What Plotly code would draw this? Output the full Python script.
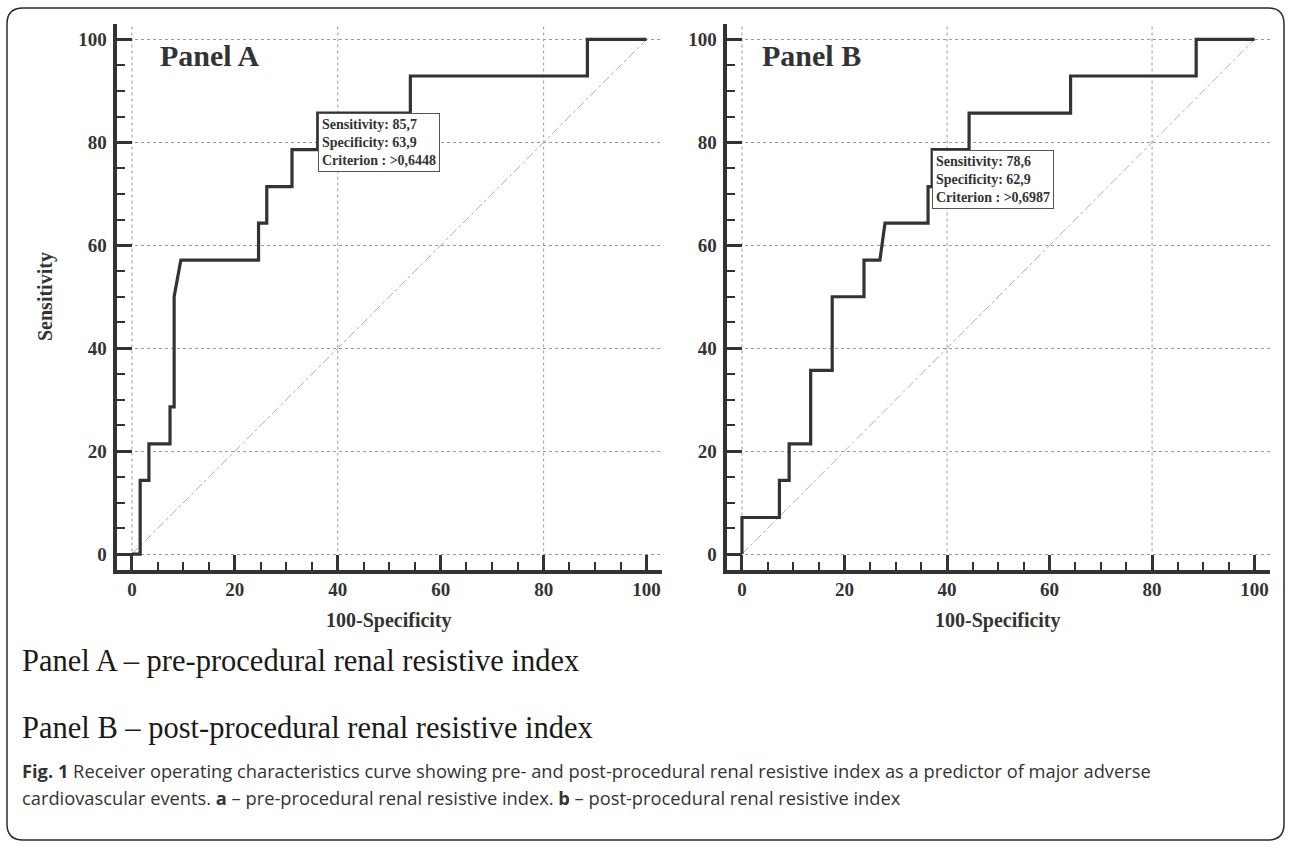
import plotly.graph_objects as go

W, H = 1292, 848

# ---------------- data ----------------
roc_a_x = [0, 1.6, 1.6, 3.3, 3.3, 7.4, 7.4, 8.2, 8.2, 9.5, 24.6, 24.6, 26.2, 26.2,
           31.1, 31.1, 36.1, 36.1, 54.1, 54.1, 88.5, 88.5, 100]
roc_a_y = [0, 0, 14.3, 14.3, 21.4, 21.4, 28.6, 28.6, 50.0, 57.1, 57.1, 64.3, 64.3, 71.4,
           71.4, 78.6, 78.6, 85.7, 85.7, 92.9, 92.9, 100, 100]

roc_b_x = [0, 0, 7.3, 7.3, 9.2, 9.2, 13.4, 13.4, 17.6, 17.6, 23.8, 23.8, 26.9, 27.9,
           36.3, 36.3, 37.1, 37.1, 44.3, 44.3, 64.1, 64.1, 88.6, 88.6, 100]
roc_b_y = [0, 7.1, 7.1, 14.3, 14.3, 21.4, 21.4, 35.7, 35.7, 50.0, 50.0, 57.1, 57.1, 64.3,
           64.3, 71.4, 71.4, 78.6, 78.6, 85.7, 85.7, 92.9, 92.9, 100, 100]

diag = [0, 100]

crit_a = {"sens": "85,7", "spec": "63,9", "crit": ">0,6448", "x": 36.1, "y": 85.7}
crit_b = {"sens": "78,6", "spec": "62,9", "crit": ">0,6987", "x": 37.1, "y": 78.6}

panel_titles = ["Panel A", "Panel B"]
vgrid = [0, 40, 80]
caption_lines = ["Panel A \u2013 pre-procedural renal resistive index",
                 "Panel B \u2013 post-procedural renal resistive index"]
fig_caption_1 = ("<b>Fig. 1</b> Receiver operating characteristics curve showing pre- and "
                 "post-procedural renal resistive index as a predictor of major adverse")
fig_caption_2 = ("cardiovascular events. <b>a</b> \u2013 pre-procedural renal resistive index. "
                 "<b>b</b> \u2013 post-procedural renal resistive index")

# ---------------- helpers ----------------
def px(x):
    return x / W

def py(y):
    return 1 - y / H

SERIF = "Liberation Serif, Times New Roman, serif"
DARK = "#333333"

dom_y = [py(569.5), py(24)]
dom_xa = [px(116.5), px(662)]
dom_xb = [px(726.6), px(1270)]

fig = go.Figure()

def add_panel(xs, ys, xa, ya):
    fig.add_trace(go.Scatter(x=diag, y=diag, mode="lines", xaxis=xa, yaxis=ya,
                             line=dict(color="#b0b0b0", width=1, dash="dashdot"),
                             hoverinfo="skip", showlegend=False))
    fig.add_trace(go.Scatter(x=xs, y=ys, mode="lines", xaxis=xa, yaxis=ya,
                             line=dict(color=DARK, width=3.2),
                             showlegend=False))

add_panel(roc_a_x, roc_a_y, "x", "y")
add_panel(roc_b_x, roc_b_y, "x2", "y2")

tickfont = dict(family=SERIF, size=19, color=DARK, weight="bold")

def xaxis_cfg(domain, anchor):
    return dict(domain=domain, anchor=anchor, range=[-3, 103], tick0=0, dtick=20,
                ticks="inside", ticklen=15, tickwidth=2.5, tickcolor=DARK,
                minor=dict(dtick=5, tick0=0, ticks="inside", ticklen=8, tickwidth=2,
                           tickcolor=DARK, showgrid=False),
                showline=True, linewidth=4, linecolor=DARK, showgrid=False,
                zeroline=False, tickfont=tickfont, ticklabelstandoff=0, fixedrange=True)

def yaxis_cfg(anchor):
    return dict(domain=dom_y, anchor=anchor, range=[-3, 103], tick0=0, dtick=20,
                ticks="inside", ticklen=15, tickwidth=2.5, tickcolor=DARK,
                minor=dict(dtick=5, tick0=0, ticks="inside", ticklen=8, tickwidth=2,
                           tickcolor=DARK, showgrid=False),
                showline=True, linewidth=4, linecolor=DARK,
                showgrid=True, gridcolor="#9a9a9a", gridwidth=1, griddash="dot",
                zeroline=False, tickfont=tickfont, ticklabelstandoff=2, fixedrange=True)

fig.update_layout(
    width=W, height=H, margin=dict(l=0, r=0, t=0, b=0),
    paper_bgcolor="white", plot_bgcolor="white", showlegend=False,
    xaxis=xaxis_cfg(dom_xa, "y"), yaxis=yaxis_cfg("x"),
    xaxis2=xaxis_cfg(dom_xb, "y2"), yaxis2=yaxis_cfg("x2"),
)

shapes = []
for xr, yr in (("x", "y domain"), ("x2", "y2 domain")):
    for gx in vgrid:
        shapes.append(dict(type="line", xref=xr, yref=yr, x0=gx, x1=gx, y0=0, y1=1,
                           line=dict(color="#9a9a9a", width=1, dash="dot"), layer="below"))

# rounded outer border
L, T, R, B, r = 7, 8, 1284, 840, 16
path = (f"M {px(L + r)} {py(T)} L {px(R - r)} {py(T)} Q {px(R)} {py(T)} {px(R)} {py(T + r)} "
        f"L {px(R)} {py(B - r)} Q {px(R)} {py(B)} {px(R - r)} {py(B)} "
        f"L {px(L + r)} {py(B)} Q {px(L)} {py(B)} {px(L)} {py(B - r)} "
        f"L {px(L)} {py(T + r)} Q {px(L)} {py(T)} {px(L + r)} {py(T)} Z")
shapes.append(dict(type="path", xref="paper", yref="paper", path=path,
                   line=dict(color="#2a2a2a", width=1.5)))
fig.update_layout(shapes=shapes)

ann = []
# panel titles
for title, xpix in zip(panel_titles, (158, 760)):
    ann.append(dict(text=title, xref="paper", yref="paper", x=px(xpix), y=py(55),
                    xanchor="left", yanchor="middle", showarrow=False,
                    font=dict(family=SERIF, size=30, color=DARK, weight="bold")))

# criterion boxes
for c, xr, yr in ((crit_a, "x", "y"), (crit_b, "x2", "y2")):
    crit = c["crit"].replace(">", "&gt;")
    txt = f"Sensitivity: {c['sens']}<br>Specificity: {c['spec']}<br>Criterion : {crit}"
    ann.append(dict(text=txt, xref=xr, yref=yr, x=c["x"], y=c["y"],
                    xanchor="left", yanchor="top", showarrow=False, align="left",
                    bgcolor="white", bordercolor="#555555", borderwidth=1, borderpad=3,
                    font=dict(family=SERIF, size=14, color=DARK, weight="bold")))

# axis titles
for xc in (389, 998):
    ann.append(dict(text="100-Specificity", xref="paper", yref="paper", x=px(xc), y=py(620),
                    xanchor="center", yanchor="middle", showarrow=False,
                    font=dict(family=SERIF, size=20, color=DARK, weight="bold")))
ann.append(dict(text="Sensitivity", xref="paper", yref="paper", x=px(45), y=py(297),
                xanchor="center", yanchor="middle", showarrow=False, textangle=-90,
                font=dict(family=SERIF, size=20, color=DARK, weight="bold")))

# caption lines
for line, ypix in zip(caption_lines, (661, 728)):
    ann.append(dict(text=line, xref="paper", yref="paper", x=px(20), y=py(ypix),
                    xanchor="left", yanchor="middle", showarrow=False,
                    font=dict(family=SERIF, size=30.5, color="#1a1a1a")))

CAPF = "Open Sans, sans-serif"
for line, ypix in zip((fig_caption_1, fig_caption_2), (770, 797)):
    ann.append(dict(text=line, xref="paper", yref="paper", x=px(20), y=py(ypix),
                    xanchor="left", yanchor="middle", showarrow=False,
                    font=dict(family=CAPF, size=18.3, color="#333333")))

fig.update_layout(annotations=ann)
fig.write_html("out.html", config={"displayModeBar": False},
               post_script="document.body.style.margin='0';document.body.style.overflow='hidden';")
